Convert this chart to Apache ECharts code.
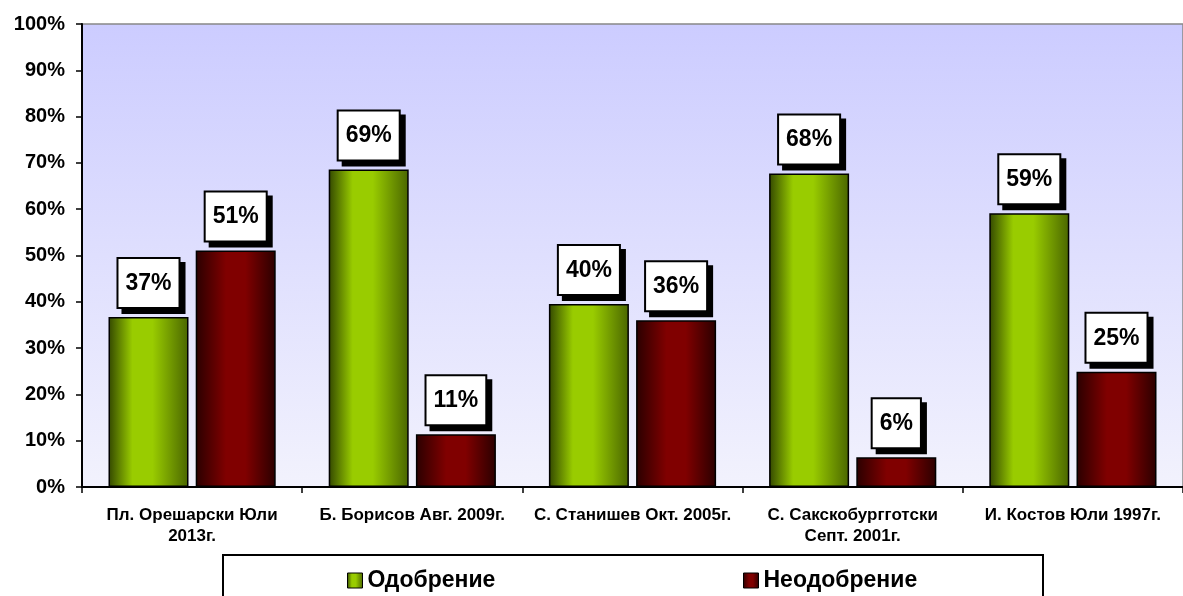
<!DOCTYPE html>
<html>
<head>
<meta charset="utf-8">
<script src="https://cdn.jsdelivr.net/npm/echarts@6/dist/echarts.min.js"></script>
<style>
html,body{margin:0;padding:0;background:#fff;}
#chart{width:1183px;height:596px;}
</style>
</head>
<body>
<div id="chart"></div>
<script>
const categories = [
  'Пл. Орешарски Юли\n2013г.',
  'Б. Борисов Авг. 2009г.',
  'С. Станишев Окт. 2005г.',
  'С. Сакскобургготски\nСепт. 2001г.',
  'И. Костов Юли 1997г.'
];
const seriesNames = ['Одобрение', 'Неодобрение'];
const approval = [36.7, 68.6, 39.5, 67.7, 59.1];
const disapproval = [51.1, 11.4, 36.0, 6.4, 24.9];
const yTicks = { min: 0, max: 100, interval: 10 };

const chart = echarts.init(document.getElementById('chart'), null, { renderer: 'canvas' });
const FONT = "'Liberation Sans', Arial, sans-serif";

const greenGrad = new echarts.graphic.LinearGradient(0, 0, 1, 0, [
  { offset: 0, color: '#334800' },
  { offset: 0.3, color: '#99cc00' },
  { offset: 0.55, color: '#99cc00' },
  { offset: 1, color: '#4a6600' }
]);
const redGrad = new echarts.graphic.LinearGradient(0, 0, 1, 0, [
  { offset: 0, color: '#2a0000' },
  { offset: 0.38, color: '#800000' },
  { offset: 0.62, color: '#800000' },
  { offset: 1, color: '#2a0000' }
]);

const labelStyle = {
  show: true,
  position: 'top',
  distance: 10,
  formatter: p => Math.round(p.value) + '%',
  fontFamily: FONT,
  fontSize: 23,
  fontWeight: 'bold',
  color: '#000',
  lineHeight: 25,
  backgroundColor: '#fff',
  borderColor: '#000',
  borderWidth: 2,
  padding: [12, 7, 11, 7],
  shadowColor: '#000',
  shadowBlur: 0,
  shadowOffsetX: 5,
  shadowOffsetY: 5
};

const legendText = { fontFamily: FONT, fontSize: 23, fontWeight: 'bold', color: '#000' };

const option = {
  backgroundColor: '#fff',
  animation: false,
  grid: {
    left: 82, right: -12, top: 24, bottom: 109,
    show: true,
    borderColor: '#888',
    borderWidth: 1.5,
    backgroundColor: new echarts.graphic.LinearGradient(0, 0, 0, 1, [
      { offset: 0, color: '#ccccff' },
      { offset: 1, color: '#f2f2fd' }
    ])
  },
  graphic: [{
    type: 'rect',
    z: 0,
    shape: { x: 223, y: 555, width: 820, height: 60 },
    style: { fill: '#fff', stroke: '#000', lineWidth: 2 }
  }],
  legend: [
    {
      data: [seriesNames[0]], left: 347, top: 569, padding: 0,
      icon: 'rect', itemWidth: 15, itemHeight: 15, itemGap: 5,
      itemStyle: { borderColor: '#000', borderWidth: 1 },
      textStyle: legendText
    },
    {
      data: [seriesNames[1]], left: 743, top: 569, padding: 0,
      icon: 'rect', itemWidth: 15, itemHeight: 15, itemGap: 5,
      itemStyle: { borderColor: '#000', borderWidth: 1 },
      textStyle: legendText
    }
  ],
  xAxis: {
    type: 'category',
    data: categories,
    axisLine: { lineStyle: { color: '#000', width: 2 } },
    axisTick: { show: true, length: 6, lineStyle: { color: '#000', width: 1.5 } },
    axisLabel: {
      fontFamily: FONT, fontSize: 17, fontWeight: 'bold', color: '#000',
      margin: 18, lineHeight: 21, interval: 0
    }
  },
  yAxis: {
    type: 'value',
    min: yTicks.min, max: yTicks.max, interval: yTicks.interval,
    axisLine: { show: true, lineStyle: { color: '#000', width: 2 } },
    axisTick: { show: true, length: 6, lineStyle: { color: '#000', width: 1.5 } },
    splitLine: { show: false },
    axisLabel: {
      formatter: '{value}%',
      fontFamily: FONT, fontSize: 20, fontWeight: 'bold', color: '#000',
      margin: 17
    }
  },
  series: [
    {
      name: seriesNames[0], type: 'bar', data: approval,
      barWidth: 80, barGap: '9%',
      itemStyle: { color: greenGrad, borderColor: '#000', borderWidth: 1.5 },
      label: labelStyle
    },
    {
      name: seriesNames[1], type: 'bar', data: disapproval,
      barWidth: 80, barGap: '9%',
      itemStyle: { color: redGrad, borderColor: '#000', borderWidth: 1.5 },
      label: labelStyle
    }
  ]
};
chart.setOption(option);
</script>
</body>
</html>
